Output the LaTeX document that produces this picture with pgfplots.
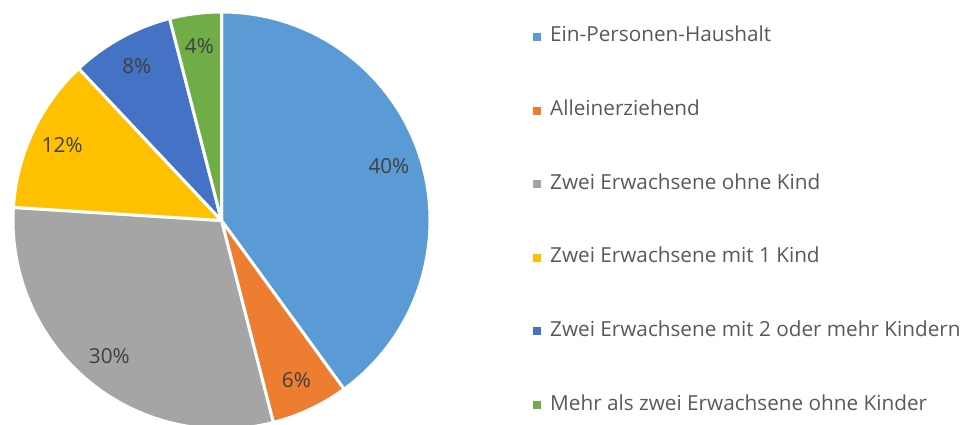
\documentclass[border=0pt]{standalone}
\usepackage{fontspec}
\setmainfont{Open Sans}
\usepackage{pgfplots}
\usepackage{pgfplotstable}
\pgfplotsset{compat=1.18}
\definecolor{c0}{HTML}{5B9BD5}
\definecolor{c1}{HTML}{ED7D31}
\definecolor{c2}{HTML}{A5A5A5}
\definecolor{c3}{HTML}{FFC000}
\definecolor{c4}{HTML}{4472C4}
\definecolor{c5}{HTML}{70AD47}
\definecolor{labelgray}{HTML}{404040}
\definecolor{legendgray}{HTML}{595959}
\newcommand{\labelfont}{\fontsize{20.8}{23}\selectfont}
\pgfplotstableread{
value
40
6
30
12
8
4
}\pietable
\begin{document}
\begin{tikzpicture}
\path[use as bounding box] (0,0) rectangle (968bp,425bp);
\begin{axis}[at={(0,0)},anchor=south west,scale only axis,
  width=968bp,height=425bp,xmin=0,xmax=968,ymin=0,ymax=425,
  hide axis,clip=false]
\def\startang{90}
\pgfplotsforeachungrouped \i in {0,...,5}{%
  \pgfplotstablegetelem{\i}{value}\of\pietable
  \let\v\pgfplotsretval
  \pgfmathsetmacro{\endang}{\startang-3.6*\v}%
  \pgfmathsetmacro{\midang}{(\startang+\endang)/2}%
  \edef\cmd{\noexpand\filldraw[fill=c\i, draw=white, line width=3bp, line join=round]
    (axis cs:221.5,204.5) -- ++(\startang:208.5bp)
    arc[start angle=\startang, end angle=\endang, radius=208.5bp] -- cycle;
    \noexpand\path (axis cs:221.5,204.5) ++(\midang:176bp)
    node[text=labelgray, font=\noexpand\labelfont] {\v\noexpand\%};}%
  \cmd
  \let\startang\endang
}
% legend
\pgfplotsforeachungrouped \i/\name in {0/Ein-Personen-Haushalt,1/Alleinerziehend,2/Zwei Erwachsene ohne Kind,3/Zwei Erwachsene mit 1 Kind,4/Zwei Erwachsene mit 2 oder mehr Kindern,5/Mehr als zwei Erwachsene ohne Kinder}{%
  \pgfmathsetmacro{\yc}{425-37-73.6*\i}%
  \pgfmathsetmacro{\yb}{425-42-73.6*\i}%
  \edef\cmd{\noexpand\fill[c\i] (axis cs:533,\yc) ++(0,-4bp) rectangle ++(8bp,8bp);
    \noexpand\node[anchor=base west, inner sep=0pt, text=legendgray, font=\noexpand\labelfont] at (axis cs:550,\yb) {\name};}%
  \cmd
}
\end{axis}
\end{tikzpicture}
\end{document}
